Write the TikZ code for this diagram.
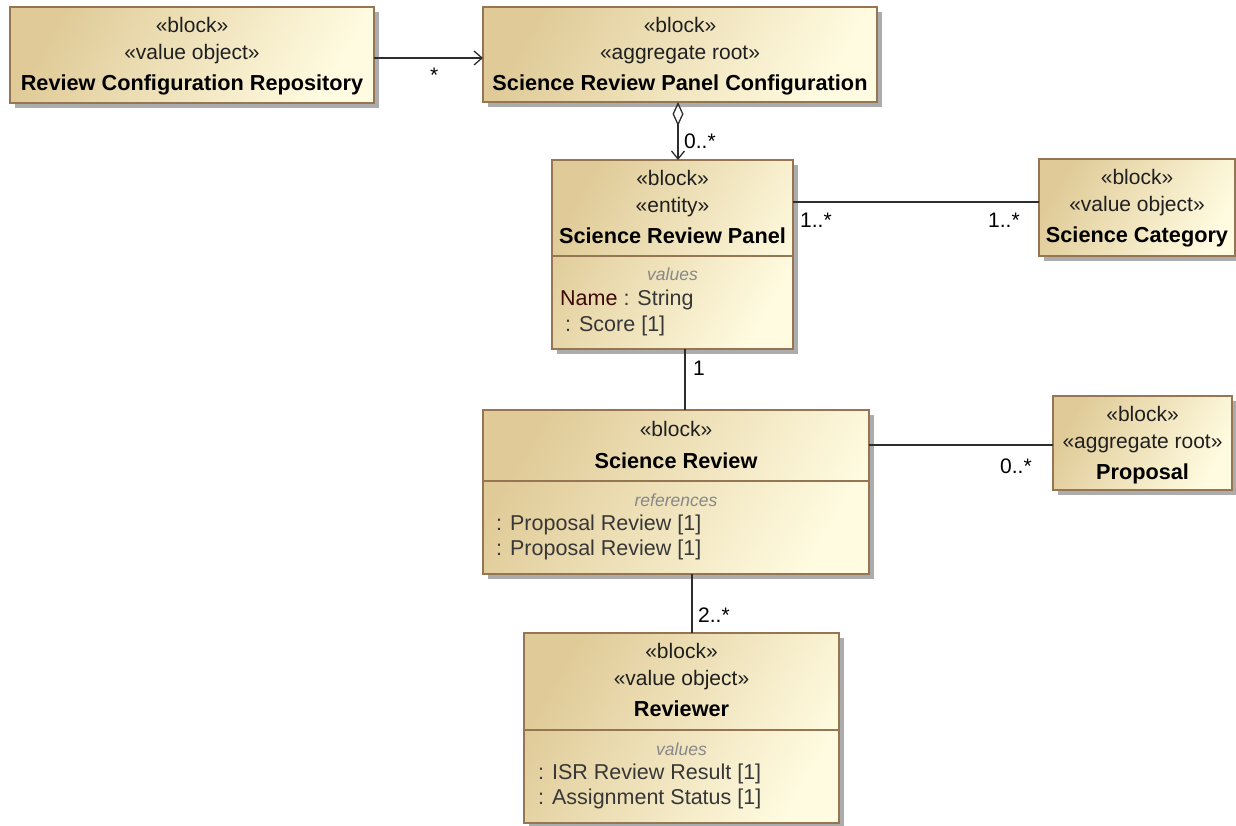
\documentclass[tikz,border=0pt]{standalone}
\usepackage{fontspec}
\setmainfont{Liberation Sans}
\usetikzlibrary{arrows.meta,shadows}

\definecolor{blockdark}{RGB}{224,203,152}
\definecolor{blocklight}{RGB}{255,251,224}
\definecolor{blockline}{RGB}{150,118,82}
\definecolor{shadowgray}{RGB}{172,172,172}
\definecolor{linegray}{RGB}{45,45,45}
\definecolor{attrgray}{RGB}{55,55,55}
\definecolor{titlegray}{RGB}{135,135,135}
\definecolor{namered}{RGB}{60,8,8}

\tikzset{
  blockbox/.style={draw=blockline, line width=1.3pt, inner sep=0pt, outer sep=0pt,
    top color=blockdark, bottom color=blocklight, shading angle=60,
    drop shadow={shadow xshift=5pt, shadow yshift=-5pt, fill=shadowgray, opacity=1}},
  stereo/.style={inner sep=0pt, anchor=base, text=black!88,
    font=\fontsize{21}{25}\selectfont},
  blockname/.style={inner sep=0pt, anchor=base, text=black,
    font=\bfseries\fontsize{21.7}{25}\selectfont},
  comptitle/.style={inner sep=0pt, anchor=base, text=titlegray,
    font=\itshape\fontsize{17.5}{21}\selectfont},
  attr/.style={inner sep=0pt, anchor=base west, text=attrgray,
    font=\fontsize{21.5}{25}\selectfont},
  mult/.style={inner sep=0pt, anchor=base west, text=black,
    font=\fontsize{21}{25}\selectfont},
  assoc/.style={draw=linegray, line width=1.3pt},
  navig/.style={assoc, -{Straight Barb[length=8pt,width=14pt]}},
  aggr/.style={assoc, {Diamond[open,length=24pt,width=11pt]}-{Straight Barb[length=8pt,width=13pt]}}
}

\begin{document}
\begin{tikzpicture}[x=1pt,y=-1pt]
\useasboundingbox (0,0) rectangle (1236,825);

% blocks
\node[blockbox, minimum width=364pt, minimum height=96pt] (rcr) at (192,55) {};
\node[blockbox, minimum width=394pt, minimum height=95pt] (srpc) at (680,54.5) {};
\node[blockbox, minimum width=241pt, minimum height=189pt] (srp) at (672.5,254.5) {};
\node[blockbox, minimum width=196pt, minimum height=97pt] (sc) at (1137,207.5) {};
\node[blockbox, minimum width=386pt, minimum height=164pt] (sr) at (676,492) {};
\node[blockbox, minimum width=179pt, minimum height=94pt] (prop) at (1142.5,443) {};
\node[blockbox, minimum width=315pt, minimum height=190pt] (rev) at (681.5,728) {};

% compartment lines
\foreach \blk/\d in {srp/96, sr/71, rev/97}
  \draw[blockline, line width=1.3pt] ([yshift=-\d pt]\blk.north west) -- ([yshift=-\d pt]\blk.north east);

% headers
\foreach \blk/\st/\nm in {rcr/value object/Review Configuration Repository,
    srpc/aggregate root/Science Review Panel Configuration,
    srp/entity/Science Review Panel, sc/value object/Science Category,
    prop/aggregate root/Proposal, rev/value object/Reviewer}{
  \node[stereo] (\blk-st) at ([yshift=-25.5pt]\blk.north) {«block»};
  \node[stereo] (\blk-st2) at ([yshift=-52.5pt]\blk.north) {«\st»};
  \node[blockname] (\blk-name) at ([yshift=-83pt]\blk.north) {\nm};
}
\node[stereo] (sr-st) at ([yshift=-26pt]sr.north) {«block»};
\node[blockname] (sr-name) at ([yshift=-58pt]sr.north) {Science Review};

% compartments
\node[comptitle] (srp-ct) at ([yshift=-120pt]srp.north) {values};
\node[attr] (srp-a1) at ([xshift=8pt,yshift=-145pt]srp.north west) {\textcolor{namered}{Name} : String};
\node[attr] (srp-a2) at ([xshift=13pt,yshift=-171pt]srp.north west) {: Score [1]};

\node[comptitle] (sr-ct) at ([yshift=-96pt]sr.north) {references};
\node[attr] (sr-a1) at ([xshift=13pt,yshift=-120pt]sr.north west) {: Proposal Review [1]};
\node[attr] (sr-a2) at ([xshift=13pt,yshift=-145pt]sr.north west) {: Proposal Review [1]};

\node[comptitle] (rev-ct) at ([yshift=-122pt]rev.north) {values};
\node[attr] (rev-a1) at ([xshift=14pt,yshift=-146pt]rev.north west) {: ISR Review Result [1]};
\node[attr] (rev-a2) at ([xshift=14pt,yshift=-171pt]rev.north west) {: Assignment Status [1]};

% connectors
\coordinate (rcrout) at ([yshift=-3pt]rcr.east);
\draw[navig] (rcrout) -- (rcrout -| srpc.west);
\node[mult] (m-rcr) at (430,82) {*};

\coordinate (srpcout) at ([xshift=-2pt]srpc.south);
\draw[aggr] (srpcout) -- (srpcout |- srp.north);
\node[mult] (m-srp) at (684,148) {0..*};

\coordinate (scin) at ([yshift=5.5pt]sc.west);
\draw[assoc] (srp.east |- scin) -- (scin);
\node[mult] (m-sc1) at (800,227) {1..*};
\node[mult] (m-sc2) at (988,227) {1..*};

\coordinate (srpout) at ([xshift=12.5pt]srp.south);
\draw[assoc] (srpout) -- (srpout |- sr.north);
\node[mult] (m-sr) at (693,375) {1};

\coordinate (propin) at ([yshift=-2pt]prop.west);
\draw[assoc] (sr.east |- propin) -- (propin);
\node[mult] (m-prop) at (1000,473) {0..*};

\coordinate (srout) at ([xshift=16pt]sr.south);
\draw[assoc] (srout) -- (srout |- rev.north);
\node[mult] (m-rev) at (698,622) {2..*};
\end{tikzpicture}
\end{document}
